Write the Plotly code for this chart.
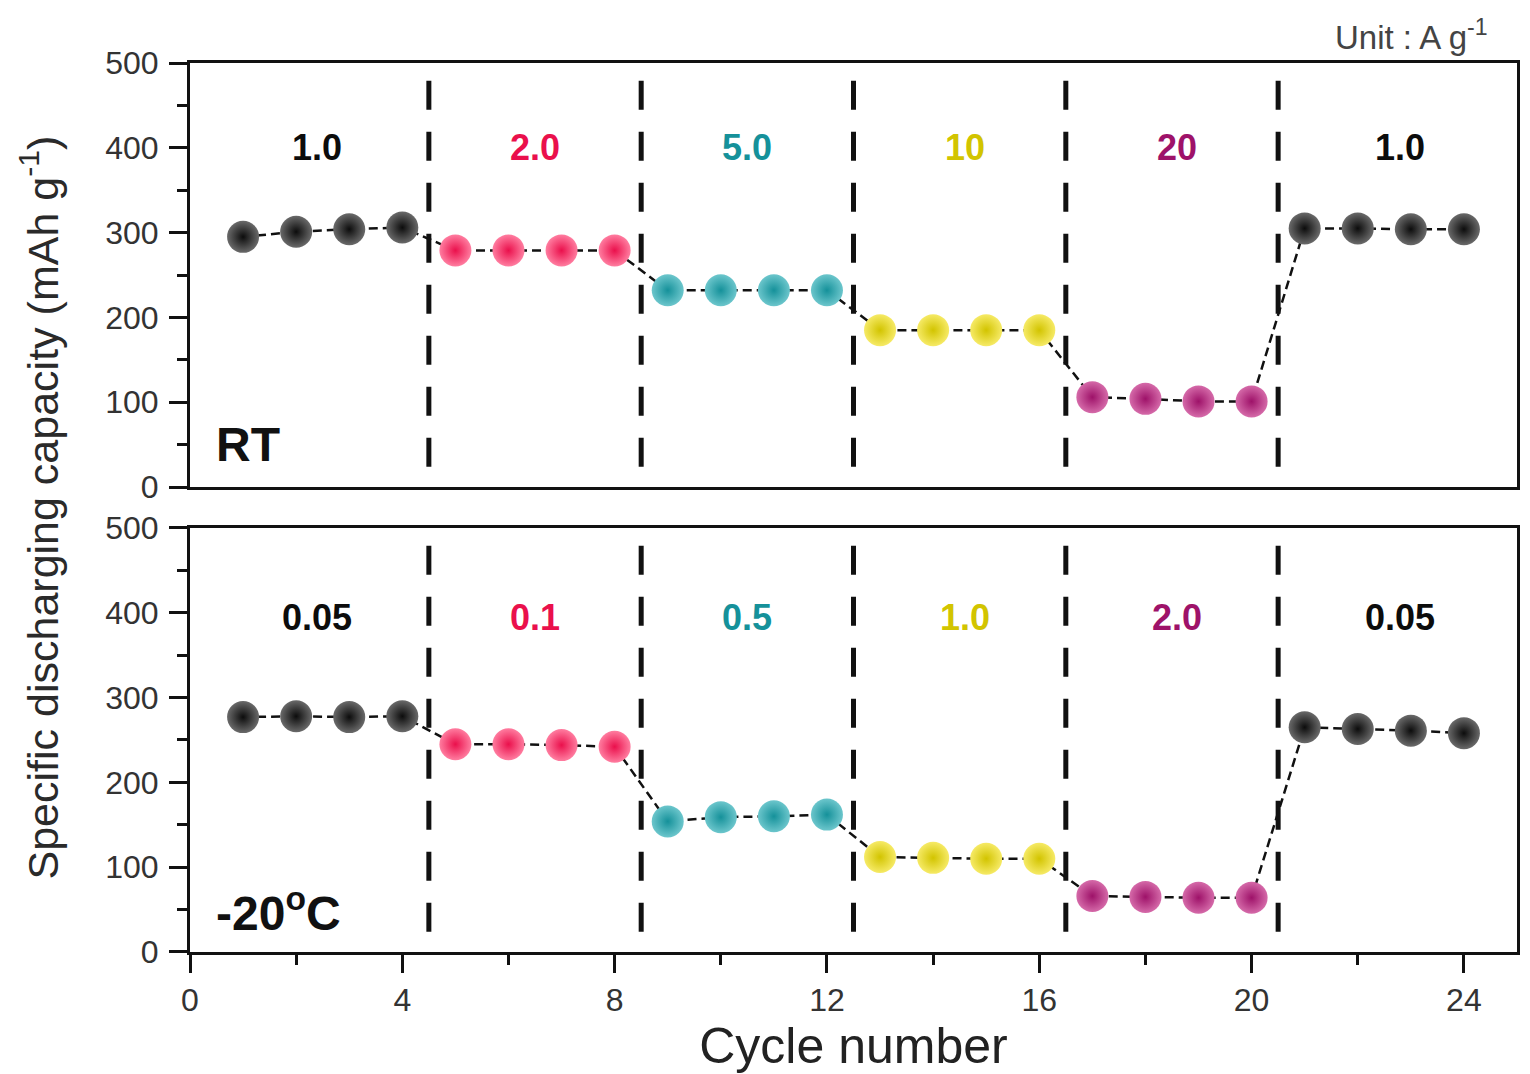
import plotly.graph_objects as go
from plotly.subplots import make_subplots

# cycle numbers and capacities (mAh g-1)
cycles = list(range(1, 25))
cap_rt = [295, 301, 304, 306,
          279, 279, 279, 279,
          232, 232, 232, 232,
          185, 185, 185, 185,
          106, 104, 101, 101,
          305, 305, 304, 304]
cap_low = [277, 278, 277, 278,
           245, 245, 244, 242,
           154, 159, 160, 162,
           112, 111, 110, 110,
           66, 65, 64, 64,
           265, 263, 261, 258]

# current densities (A g-1) per block
rates_rt = ["1.0", "2.0", "5.0", "10", "20", "1.0"]
rates_low = ["0.05", "0.1", "0.5", "1.0", "2.0", "0.05"]
rate_x = [2.4, 6.5, 10.5, 14.6, 18.6, 22.8]
boundaries = [4.5, 8.5, 12.5, 16.5, 20.5]

colors = ["#0c0c0c", "#ea104c", "#15919a", "#d2c400", "#9e1269", "#0c0c0c"]
centers = ["#6a6a6a", "#ff7da0", "#6cc6cc", "#f6ea66", "#d56aa9", "#6a6a6a"]

FONT = "Liberation Sans, Arial, sans-serif"

fig = make_subplots(rows=2, cols=1, shared_xaxes=True, vertical_spacing=0.046)

for row, caps, rates, tag in [(1, cap_rt, rates_rt, "RT"),
                              (2, cap_low, rates_low, "-20<sup>o</sup>C")]:
    xr = "x" if row == 1 else "x2"
    yr = "y" if row == 1 else "y2"
    # thin dashed connector through every point
    fig.add_trace(go.Scatter(x=cycles, y=caps, mode="lines",
                             line=dict(color="#111111", width=2.5, dash="9px,5px"),
                             showlegend=False, hoverinfo="skip"), row=row, col=1)
    for i in range(6):
        xs = cycles[i * 4:(i + 1) * 4]
        ys = caps[i * 4:(i + 1) * 4]
        fig.add_trace(go.Scatter(
            x=xs, y=ys, mode="markers", showlegend=False,
            marker=dict(size=32, color=centers[i], line=dict(width=0),
                        gradient=dict(type="radial", color=colors[i]))),
            row=row, col=1)
        fig.add_annotation(x=rate_x[i], y=400 if row == 1 else 394,
                           text=f"<b>{rates[i]}</b>", showarrow=False,
                           xref=xr, yref=yr,
                           font=dict(family=FONT, size=36, color=colors[i]))
    for b in boundaries:
        fig.add_shape(type="line", x0=b, x1=b, y0=24, y1=486, xref=xr, yref=yr,
                      line=dict(color="#111111", width=5, dash="29px,22px"))
    fig.add_annotation(x=0.45, y=50, text=f"<b>{tag}</b>", showarrow=False,
                       xanchor="left", xref=xr, yref=yr,
                       font=dict(family=FONT, size=48, color="#111111"))

axis_common = dict(showline=True, linecolor="#111111", linewidth=3, mirror=True,
                   showgrid=False, zeroline=False, automargin=False)

fig.update_yaxes(range=[0, 500], tickvals=[0, 100, 200, 300, 400, 500],
                 ticks="outside", ticklen=18, tickwidth=3, tickcolor="#111111",
                 minor=dict(dtick=50, ticks="outside", ticklen=10, tickwidth=3,
                            tickcolor="#111111"),
                 tickfont=dict(family=FONT, size=32, color="#333333"),
                 ticklabelstandoff=4, **axis_common)
fig.update_xaxes(range=[0, 25], **axis_common)
fig.update_xaxes(showticklabels=False, ticks="", row=1, col=1)
fig.update_xaxes(tickvals=[0, 4, 8, 12, 16, 20, 24], ticks="outside", ticklen=18,
                 tickwidth=3, tickcolor="#111111",
                 minor=dict(dtick=2, ticks="outside", ticklen=10, tickwidth=3,
                            tickcolor="#111111"),
                 tickfont=dict(family=FONT, size=32, color="#333333"),
                 title=dict(text="Cycle number", standoff=8,
                            font=dict(family=FONT, size=50, color="#222222")),
                 row=2, col=1)

# page body adds ~8px offset, so margins are shifted accordingly
ML, MR, MT, MB = 182, 21, 55, 130
fig.update_layout(
    width=1530, height=1074,
    margin=dict(l=ML, r=MR, t=MT, b=MB, autoexpand=False),
    plot_bgcolor="white", paper_bgcolor="white",
    yaxis=dict(domain=[0.523, 1.0]),
    yaxis2=dict(domain=[0.0, 0.477]),
)

plot_w = 1530 - ML - MR
plot_h = 1074 - MT - MB
fig.add_annotation(x=(31 - ML) / plot_w, y=0.5, xref="paper", yref="paper",
                   xanchor="center", yanchor="middle", textangle=-90, showarrow=False,
                   text="Specific discharging capacity (mAh g<sup>-1</sup>)",
                   font=dict(family=FONT, size=43, color="#2a2a2a"))
fig.add_annotation(x=(1482 - ML) / plot_w, y=(1074 - MB - 4) / plot_h,
                   xref="paper", yref="paper", xanchor="right", yanchor="top",
                   showarrow=False, text="Unit : A g<sup>-1</sup>",
                   font=dict(family=FONT, size=33, color="#444444"))

fig.write_html("out.html")
